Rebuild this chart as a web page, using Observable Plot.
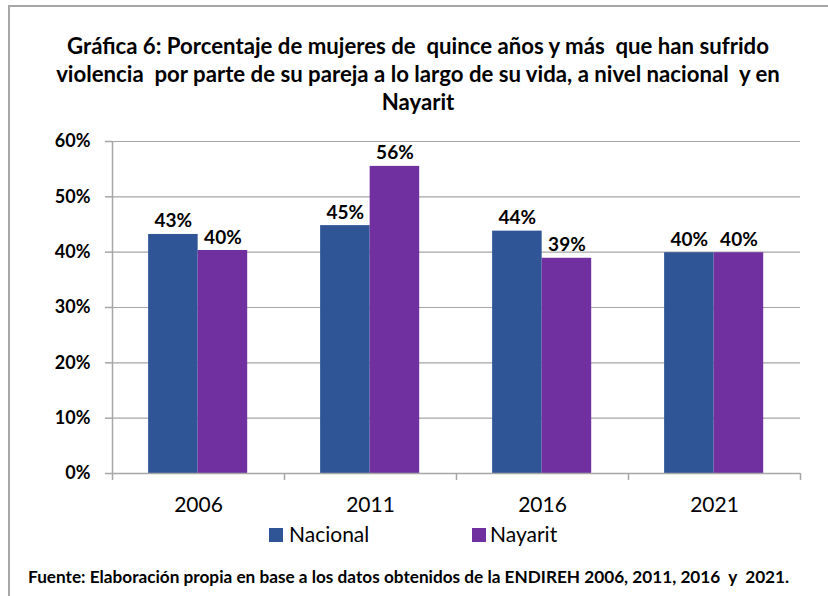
<!DOCTYPE html>
<html><head><meta charset="utf-8">
<script src="https://cdn.jsdelivr.net/npm/d3@7"></script>
<script src="https://cdn.jsdelivr.net/npm/@observablehq/plot@0.6"></script>
<style>
body{margin:0;background:#fff;font-family:Lato,'Open Sans',sans-serif;}
#wrap{position:relative;width:828px;height:596px;overflow:hidden;background:#fff;}
#frame{position:absolute;left:8px;top:5px;width:900px;height:700px;border-left:2px solid #a6a6a6;border-top:2px solid #a6a6a6;box-sizing:border-box;}
#title{position:absolute;left:8px;width:820px;top:32px;text-align:center;font-weight:bold;font-size:22.2px;line-height:28px;color:#000;white-space:pre;}
#chart{position:absolute;left:0;top:122px;}
#chart svg{font-family:Lato,'Open Sans',sans-serif;}
.leg{position:absolute;top:521px;font-size:21px;color:#000;line-height:26px;}
.sw{position:absolute;top:528px;width:14px;height:14px;}
#footer{position:absolute;left:28px;top:566px;font-weight:bold;font-size:17.2px;color:#000;white-space:pre;}
</style></head>
<body>
<div id="wrap">
  <div id="frame"></div>
  <div id="title"></div>
  <div id="chart"></div>
  <div class="sw" id="sw0"></div><div class="leg" id="lg0"></div>
  <div class="sw" id="sw1"></div><div class="leg" id="lg1"></div>
  <div id="footer"></div>
</div>
<script>
const titleLines = [
  "Gráfica 6: Porcentaje de mujeres de  quince años y más  que han sufrido",
  "violencia  por parte de su pareja a lo largo de su vida, a nivel nacional  y en",
  "Nayarit"
];
const footerText = "Fuente: Elaboración propia en base a los datos obtenidos de la ENDIREH 2006, 2011, 2016  y  2021.";
const years = ["2006", "2011", "2016", "2021"];
const series = ["Nacional", "Nayarit"];
const nacional = [0.432, 0.448, 0.438, 0.399];
const nayarit = [0.403, 0.555, 0.389, 0.399];
const yTicks = [0, 0.1, 0.2, 0.3, 0.4, 0.5, 0.6];
const colors = ["#2F5597", "#7030A0"];

document.getElementById("title").textContent = titleLines.join("\n");
document.getElementById("footer").textContent = footerText;

const data = years.flatMap((y, i) => [
  {year: y, serie: series[0], value: nacional[i]},
  {year: y, serie: series[1], value: nayarit[i]}
]);

const W = 828, H = 396, mL = 112, mR = 28, mT = 19, mB = 45;
const bw = (W - mL - mR) / years.length;
const gapOuter = bw * 0.21, barW = bw * 0.288;
const pct = d3.format(".0%");
const axisGray = "#a6a6a6";

const ins = [
  {insetLeft: gapOuter, insetRight: bw - gapOuter - barW},
  {insetLeft: gapOuter + barW, insetRight: bw - gapOuter - 2 * barW}
];
const dxs = [gapOuter + barW / 2 - bw / 2, gapOuter + 1.5 * barW - bw / 2];

const chart = Plot.plot({
  width: W, height: H,
  marginLeft: mL, marginRight: mR, marginTop: mT, marginBottom: mB,
  style: {fontFamily: "Lato, 'Open Sans', sans-serif", color: "#000", background: "transparent"},
  x: {domain: years, padding: 0, axis: null, label: null},
  y: {domain: [0, 0.6], axis: null, label: null},
  marks: [
    Plot.gridY(yTicks, {stroke: axisGray, strokeOpacity: 1, strokeWidth: 1.2}),
    ...series.map((s, k) => Plot.barY(data.filter(d => d.serie === s), {
      x: "year", y: "value", fill: colors[k], ...ins[k]
    })),
    Plot.ruleY([0], {stroke: axisGray, strokeWidth: 1.5}),
    Plot.ruleX([years[0]], {dx: -bw / 2, stroke: axisGray, strokeWidth: 1.5}),
    Plot.ruleX(years, {x: d => d, dx: -bw / 2, y1: 0, y2: 0, insetBottom: -7, stroke: axisGray, strokeWidth: 1.5}),
    Plot.ruleX([years[years.length - 1]], {x: d => d, dx: bw / 2, y1: 0, y2: 0, insetBottom: -7, stroke: axisGray, strokeWidth: 1.5}),
    Plot.axisY(yTicks, {label: null, tickSize: 7, tickPadding: 15, tickFormat: pct, fontSize: 18, fontWeight: "bold", stroke: axisGray, fill: "#000", strokeWidth: 1.5}),
    Plot.axisX({label: null, tickSize: 0, tickPadding: 24, fontSize: 21, fill: "#000"}),
    ...series.map((s, k) => Plot.text(data.filter(d => d.serie === s), {
      x: "year", y: "value", text: d => pct(d.value), dx: dxs[k], dy: -7,
      lineAnchor: "bottom", fontSize: 19, fontWeight: "bold", fill: "#000"
    }))
  ]
});
document.getElementById("chart").appendChild(chart);

const legX = [[269, 289], [472, 490]];
series.forEach((s, k) => {
  const sw = document.getElementById("sw" + k);
  sw.style.left = legX[k][0] + "px";
  sw.style.background = colors[k];
  const lg = document.getElementById("lg" + k);
  lg.style.left = legX[k][1] + "px";
  lg.textContent = s;
});
</script>
</body></html>
